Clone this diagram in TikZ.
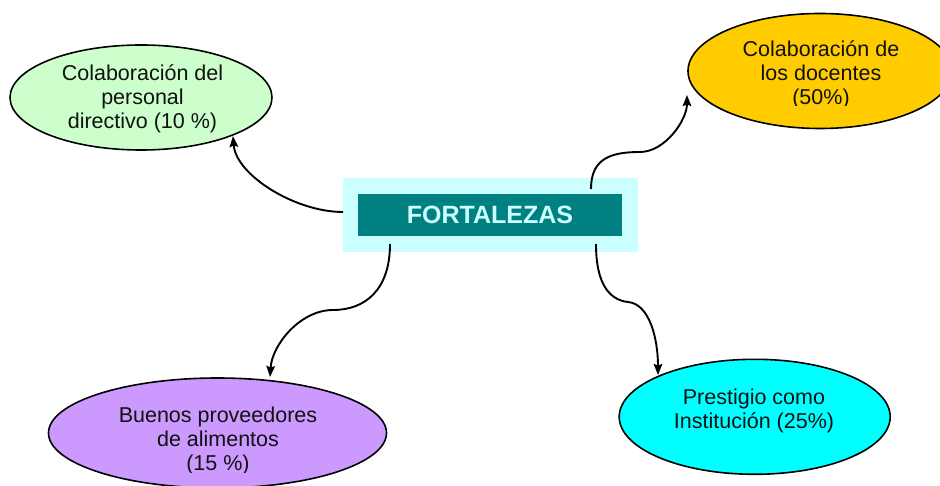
\documentclass[tikz,border=0pt]{standalone}
\usepackage{fontspec}
\setmainfont{Liberation Sans}
\usetikzlibrary{arrows.meta,shapes.geometric}
\definecolor{greenfill}{HTML}{CCFFCC}
\definecolor{yellowfill}{HTML}{FFCC00}
\definecolor{purplefill}{HTML}{CC99FF}
\definecolor{cyanfill}{HTML}{00FFFF}
\definecolor{halofill}{HTML}{CCFFFF}
\definecolor{tealfill}{HTML}{008080}
\definecolor{inkdark}{HTML}{111111}
\tikzset{
  bubble/.style={ellipse, draw=black, line width=1.6pt, inner sep=0pt},
  bubbletext/.style={align=center, text=inkdark, font=\fontsize{21.5}{24}\selectfont, inner sep=0pt},
  conn/.style={line width=1.9pt, -{Stealth[length=11pt,width=8.5pt,inset=1.5pt]}},
}
\begin{document}
\begin{tikzpicture}[x=1pt,y=-1pt]
\useasboundingbox (0,0) rectangle (940,486);
\fill[white] (0,0) rectangle (940,486);
% bubbles
\node[bubble, fill=greenfill, minimum width=262pt, minimum height=105pt] (dir) at (141,97.5) {};
\node[bubble, fill=yellowfill, minimum width=264pt, minimum height=115pt] (doc) at (820,71) {};
\node[bubble, fill=purplefill, minimum width=338pt, minimum height=110pt] (prov) at (217.5,433) {};
\node[bubble, fill=cyanfill, minimum width=271pt, minimum height=115pt] (inst) at (754.7,416.8) {};
% texts
\node[bubbletext] (dirtxt) at (142.5,98.8) {Colaboración del\\personal\\directivo (10 \%)};
\node[bubbletext] (insttxt) at (754,410.5) {Prestigio como\\Institución (25\%)};
\begin{scope}
  \clip (680,0) rectangle (940,105.5);
  \node[bubbletext] (doctxt) at (821,75.3) {Colaboración de\\los docentes\\(50\%)};
\end{scope}
\begin{scope}
  \clip (40,380) rectangle (400,472);
  \node[bubbletext] (provtxt) at (218,441) {Buenos proveedores\\de alimentos\\(15 \%)};
\end{scope}
% centre
\node[fill=halofill, minimum width=295pt, minimum height=73.4pt, inner sep=0pt] (halo) at (490,215) {};
\node[fill=tealfill, minimum width=263.4pt, minimum height=41.7pt, inner sep=0pt,
      text=halofill, font=\fontsize{25}{29}\selectfont\bfseries] (core) at (490,215.2) {FORTALEZAS};
% connectors
\draw[conn] ([shift={(-147,-3)}]halo.center) .. controls +(-48,0) and +(3,39) .. ([shift={(92,38.5)}]dir.center);
\draw[conn] ([shift={(101,-26)}]halo.center) .. controls +(0,-30) and +(-30,0) .. ++(49,-37)
            .. controls +(25,0) and +(0,25) .. ([shift={(-133,24)}]doc.center);
\draw[conn] ([shift={(-100,29)}]halo.center) .. controls +(0,46) and +(32,0) .. ++(-57,66)
            .. controls +(-33,0) and +(2,-32) .. ([shift={(52.5,-56)}]prov.center);
\draw[conn] ([shift={(106,29)}]halo.center) .. controls +(0,41) and +(-18,-2) .. ++(32,58)
            .. controls +(22,2) and +(0,-35) .. ([shift={(-96.7,-41.8)}]inst.center);
\end{tikzpicture}
\end{document}
